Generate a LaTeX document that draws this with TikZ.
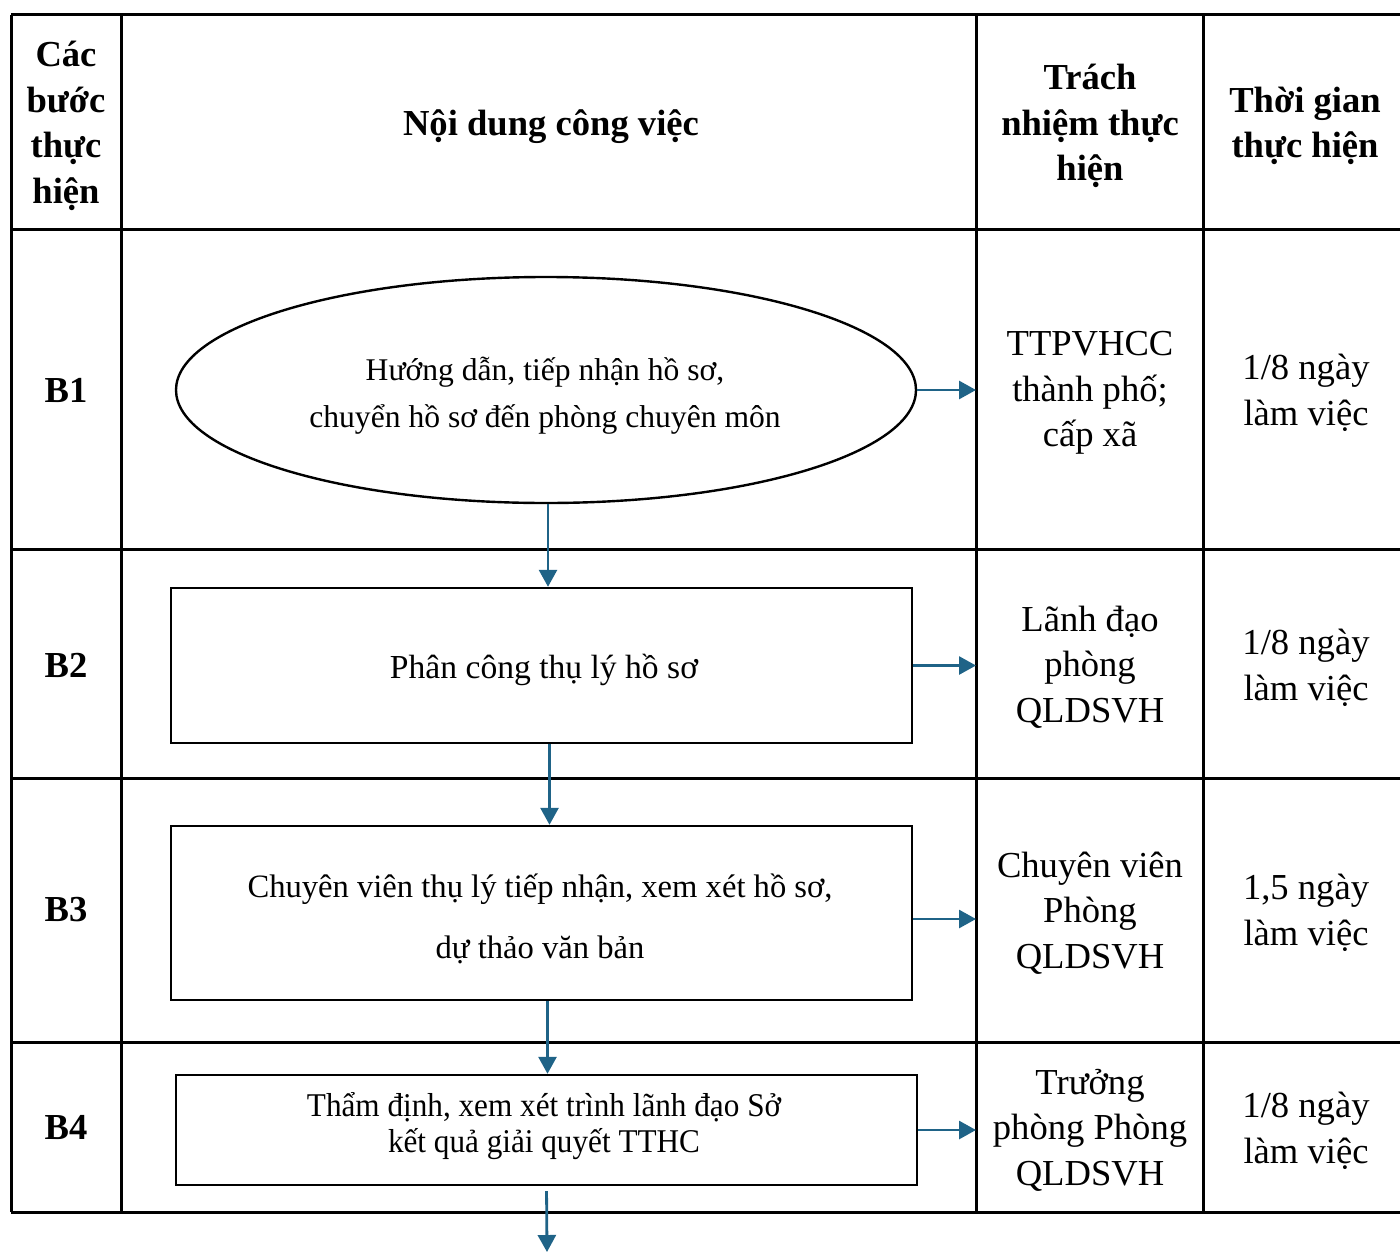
\documentclass[tikz,border=0pt]{standalone}
\usepackage{fontspec}
\setmainfont{Liberation Serif}
\newfontfamily\narrowserif[FakeStretch=0.94]{Liberation Serif}
\usetikzlibrary{arrows.meta,shapes.geometric}

\definecolor{flowblue}{RGB}{31,99,135}

\tikzset{
  rule/.style={line width=1.5pt},
  head/.style={font=\fontsize{18.3}{22.75}\selectfont\bfseries, align=center},
  cell/.style={font=\fontsize{18.3}{22.75}\selectfont, align=center},
  stepbox/.style={draw, rectangle, line width=1.2pt, inner sep=0pt},
  flow/.style={-{Triangle[length=8.5pt,width=9pt]}, line width=1.4pt, draw=flowblue, fill=flowblue},
}

\begin{document}
\begin{tikzpicture}[x=0.5pt,y=-0.5pt]
\useasboundingbox (0,0) rectangle (1400,1252);

% table
\foreach \y in {15,229,549,778,1042,1212}
  \draw[rule] (11,\y) -- (1400,\y);
\foreach \x in {11,121,976,1203}
  \draw[rule] (\x,15) -- (\x,1212);
\coordinate (c3) at (976,0);
\coordinate (bottom) at (547,1252);

% header
\node[head] (hstep) at (66,126) {Các\\bước\\thực\\hiện};
\node[head] (hwork) at (551,127) {Nội dung công việc};
\node[head] (hresp) at (1090,126) {Trách\\nhiệm thực\\hiện};
\node[head] (htime) at (1305,126) {Thời gian\\thực hiện};

% step labels
\node[head] (s1) at (66,390) {B1};
\node[head] (s2) at (66,665) {B2};
\node[head] (s3) at (66,910) {B3};
\node[head] (s4) at (66,1127) {B4};

% flow
\node[draw, ellipse, line width=1.2pt, inner sep=0pt, minimum width=370pt, minimum height=113pt] (ell) at (546,390) {};
\node[font=\fontsize{15.8}{23.5}\selectfont, align=center] (txt1) at (545,396)
  {Hướng dẫn, tiếp nhận hồ sơ,\\chuyển hồ sơ đến phòng chuyên môn};
\node[stepbox, minimum width=370.5pt, minimum height=77.5pt] (box2) at (541.5,665.5) {};
\node[font=\fontsize{16.8}{20}\selectfont] (txt2) at (544,670) {Phân công thụ lý hồ sơ};
\node[stepbox, minimum width=370.5pt, minimum height=87pt] (box3) at (541.5,913) {};
\node[font=\fontsize{16.3}{30.5}\selectfont, align=center] (txt3) at (540,919)
  {Chuyên viên thụ lý tiếp nhận, xem xét hồ sơ,\\dự thảo văn bản};
\node[stepbox, minimum width=370.5pt, minimum height=55pt] (box4) at (546.5,1130) {};
\node[font=\narrowserif\fontsize{16.6}{18}\selectfont, align=center] (txt4) at (544,1126)
  {Thẩm định, xem xét trình lãnh đạo Sở\\kết quả giải quyết TTHC};

% responsible
\node[cell] (r1) at (1090,393) {TTPVHCC\\thành phố;\\cấp xã};
\node[cell] (r2) at (1090,667) {Lãnh đạo\\phòng\\QLDSVH};
\node[cell] (r3) at (1090,913) {Chuyên viên\\Phòng\\QLDSVH};
\node[cell] (r4) at (1090,1130) {Trưởng\\phòng Phòng\\QLDSVH};

% time
\node[cell] (t1) at (1306,393) {1/8 ngày\\làm việc};
\node[cell] (t2) at (1306,668) {1/8 ngày\\làm việc};
\node[cell] (t3) at (1306,913) {1,5 ngày\\làm việc};
\node[cell] (t4) at (1306,1131) {1/8 ngày\\làm việc};

% arrows
\draw[flow] ([xshift=1pt]ell.south) -- ([xshift=1pt]ell.south |- box2.north);
\draw[flow] ([xshift=4pt]box2.south) -- ([xshift=4pt]box2.south |- box3.north);
\draw[flow] ([xshift=3pt]box3.south) -- ([xshift=3pt]box3.south |- box4.north);
\draw[flow, shorten <=2.5pt] (box4.south) -- (bottom);
\draw[flow] (ell.east) -- (ell.east -| c3);
\draw[flow] (box2.east) -- (box2.east -| c3);
\draw[flow] ([yshift=-3pt]box3.east) -- ([yshift=-3pt]box3.east -| c3);
\draw[flow] (box4.east) -- (box4.east -| c3);
\end{tikzpicture}
\end{document}
